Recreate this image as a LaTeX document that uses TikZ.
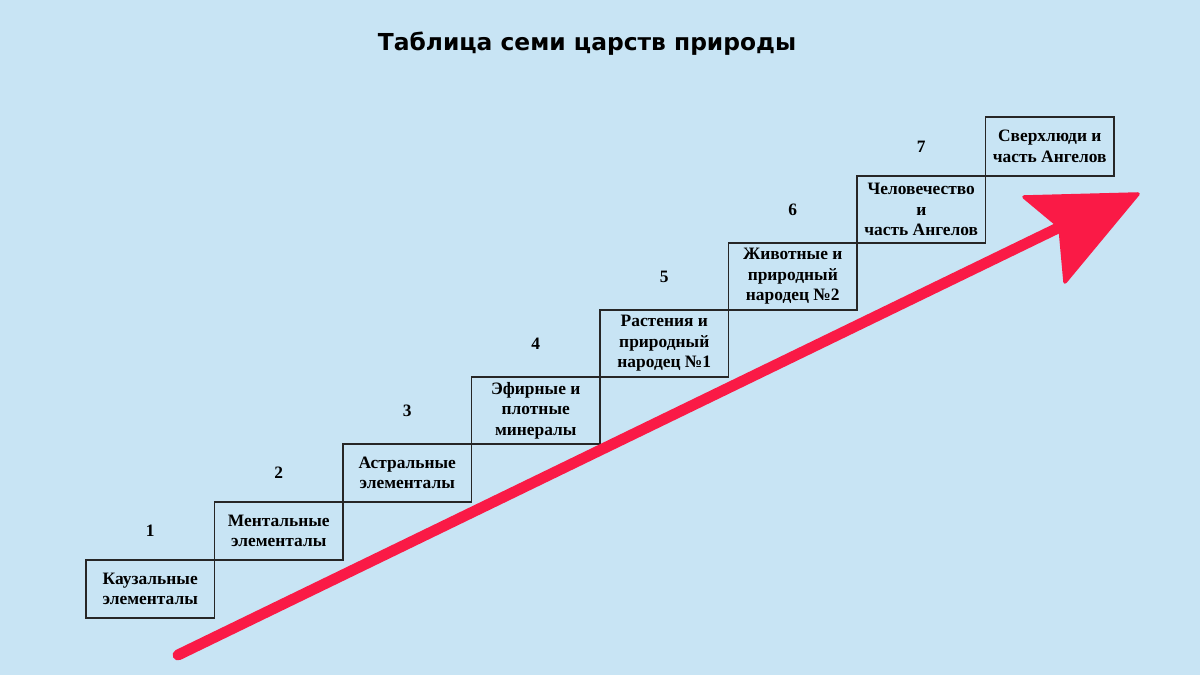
\documentclass[tikz,border=0pt]{standalone}
\usepackage{fontspec}
\setmainfont{Liberation Serif}
\newfontfamily\titlefont{DejaVu Sans}
\usepackage{xcolor}
\usetikzlibrary{positioning, calc}
\definecolor{skyback}{RGB}{200,228,244}
\definecolor{arrowred}{RGB}{250,26,70}
\tikzset{
  kingdom/.style={draw=black!85, line width=0.7pt, align=center, inner sep=0pt, outer sep=0pt,
    minimum width=2.57cm, minimum height=1.16cm,
    font=\fontsize{9.9}{11.6}\selectfont\bfseries},
  tall/.style={kingdom, minimum height=1.34cm},
  stepnum/.style={font=\fontsize{9.9}{11.6}\selectfont\bfseries},
  title/.style={font=\titlefont\fontsize{13.3}{16}\selectfont\bfseries}
}

\begin{document}
\begin{tikzpicture}
    \fill[skyback] (0,0) rectangle (24,13.5);
    \useasboundingbox (0,0) rectangle (24,13.5);

    \node[title] (head) at (11.74,12.62) {Таблица семи царств природы};

    % staircase
    \node[kingdom, anchor=south west] (k1) at (1.72,1.14) {Каузальные\\элементалы};
    \node[kingdom, anchor=south west] (k2) at (k1.north east) {Ментальные\\элементалы};
    \node[kingdom, anchor=south west] (k3) at (k2.north east) {Астральные\\элементалы};
    \node[tall, anchor=south west] (k4) at (k3.north east) {Эфирные и\\плотные\\минералы};
    \node[tall, anchor=south west] (k5) at (k4.north east) {Растения и\\природный\\народец №1};
    \node[tall, anchor=south west] (k6) at (k5.north east) {Животные и\\природный\\народец №2};
    \node[tall, anchor=south west] (k7) at (k6.north east) {Человечество\\и\\часть Ангелов};
    \node[kingdom, minimum height=1.18cm, anchor=south west] (k8) at (k7.north east) {Сверхлюди и\\часть Ангелов};

    % numbers
    \foreach \i/\j in {1/2,2/3,3/4,4/5,5/6,6/7,7/8}
      \node[stepnum] (n\i) at (k\i |- k\j) {\i};

    % big arrow
    \coordinate (tail) at (3.56,0.40);
    \coordinate (notch) at (21.20,8.96);
    \coordinate (hleft) at (20.48,9.56);
    \coordinate (tip) at (22.76,9.62);
    \coordinate (hlow) at (21.30,7.86);
    \draw[arrowred, line width=6.2pt, line cap=round] (tail) -- (notch);
    \fill[arrowred, draw=arrowred, line width=2pt, line join=round]
      (hleft) -- (tip) -- (hlow) -- (notch) -- cycle;
\end{tikzpicture}
\end{document}
